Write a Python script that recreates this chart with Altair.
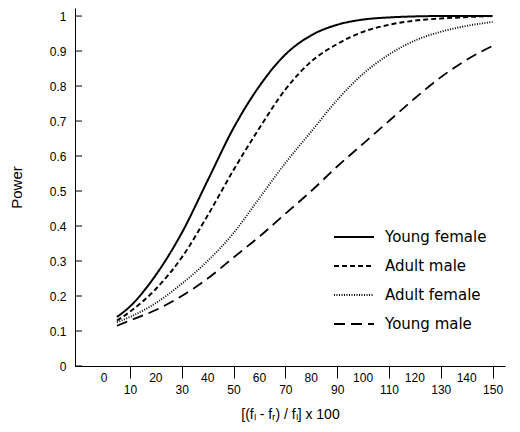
import altair as alt
import pandas as pd

series_names = ["Young female", "Adult male", "Adult female", "Young male"]
x_vals = [5, 10, 20, 30, 40, 50, 60, 70, 80, 90, 100, 110, 120, 130, 140, 150]
young_female = [0.14, 0.17, 0.26, 0.38, 0.53, 0.68, 0.80, 0.89, 0.945, 0.975, 0.99, 0.996, 0.999, 1.0, 1.0, 1.0]
adult_male = [0.13, 0.155, 0.22, 0.31, 0.43, 0.56, 0.68, 0.79, 0.87, 0.92, 0.955, 0.975, 0.987, 0.993, 0.997, 1.0]
adult_female = [0.125, 0.14, 0.18, 0.235, 0.30, 0.38, 0.48, 0.58, 0.67, 0.76, 0.835, 0.89, 0.93, 0.955, 0.972, 0.983]
young_male = [0.115, 0.13, 0.16, 0.20, 0.25, 0.31, 0.37, 0.435, 0.50, 0.57, 0.635, 0.70, 0.765, 0.825, 0.875, 0.915]

x_tick_odd = [10, 30, 50, 70, 90, 110, 130, 150]
x_label_even = [0, 20, 40, 60, 80, 100, 120, 140]
y_ticks = [0, 0.1, 0.2, 0.3, 0.4, 0.5, 0.6, 0.7, 0.8, 0.9, 1.0]

rows = []
for name, vals in zip(series_names, [young_female, adult_male, adult_female, young_male]):
    for xv, yv in zip(x_vals, vals):
        rows.append({"x": xv, "power": yv, "series": name})
df = pd.DataFrame(rows)

FONT = "Liberation Sans"
W, H = 430, 358

xscale = alt.Scale(domain=[-11.2, 154.8], nice=False, zero=False)
yscale = alt.Scale(domain=[0, 1.023], nice=False, zero=False)

xaxis = alt.Axis(values=x_tick_odd, tickSize=12, tickColor="black", tickWidth=1,
                 domainColor="black", domainWidth=1, labelPadding=6,
                 labelFont=FONT, labelFontSize=12, labelColor="black",
                 labelOverlap=False, grid=False,
                 title="[(fₗ - fᵣ) / fₗ] x 100", titleFont=FONT, titleFontSize=14,
                 titleFontWeight="normal", titleColor="black", titlePadding=12)
yaxis = alt.Axis(values=y_ticks, format=".1~f", ticks=False, tickSize=0,
                 domainColor="black", domainWidth=1, labelPadding=9,
                 labelFont=FONT, labelFontSize=12, labelColor="black",
                 labelOverlap=False, grid=False,
                 title="Power", titleFont=FONT, titleFontSize=15,
                 titleFontWeight="normal", titleColor="black", titlePadding=25)

lines = alt.Chart(df).mark_line(interpolate="monotone", color="black").encode(
    x=alt.X("x:Q", scale=xscale, axis=xaxis),
    y=alt.Y("power:Q", scale=yscale, axis=yaxis),
    strokeDash=alt.StrokeDash("series:N",
                              scale=alt.Scale(domain=series_names,
                                              range=[[1, 0], [5, 3], [1, 1.5], [11, 6]]),
                              legend=alt.Legend(title=None, orient="none", legendX=258, legendY=208,
                                                symbolType="stroke", symbolSize=1600,
                                                symbolStrokeWidth=1.6, symbolStrokeColor="black",
                                                labelFont="DejaVu Sans", labelFontSize=15,
                                                labelColor="black", labelOffset=10,
                                                rowPadding=0, labelLimit=300)),
    strokeWidth=alt.StrokeWidth("series:N",
                                scale=alt.Scale(domain=series_names, range=[2, 1.8, 1.4, 1.8]),
                                legend=None),
)

ytick_df = pd.DataFrame({"y": y_ticks})
yticks = alt.Chart(ytick_df).mark_rule(color="black", strokeWidth=1).encode(
    y=alt.Y("y:Q", scale=yscale, axis=yaxis),
    x=alt.value(0),
    x2=alt.value(7),
)

even_df = pd.DataFrame({"x": x_label_even, "label": [str(v) for v in x_label_even]})
even_labels = alt.Chart(even_df).mark_text(font=FONT, fontSize=12, color="black",
                                           baseline="middle", align="center").encode(
    x=alt.X("x:Q", scale=xscale, axis=xaxis),
    y=alt.value(H + 12),
    text="label:N",
)

chart = alt.layer(lines, yticks, even_labels).properties(
    width=W, height=H,
    autosize=alt.AutoSizeParams(type="none"),
    padding={"left": 67, "top": 0, "right": 7, "bottom": 58},
).configure_view(stroke=None)

chart.save("out.html", embed_options={"renderer": "svg", "actions": False})
